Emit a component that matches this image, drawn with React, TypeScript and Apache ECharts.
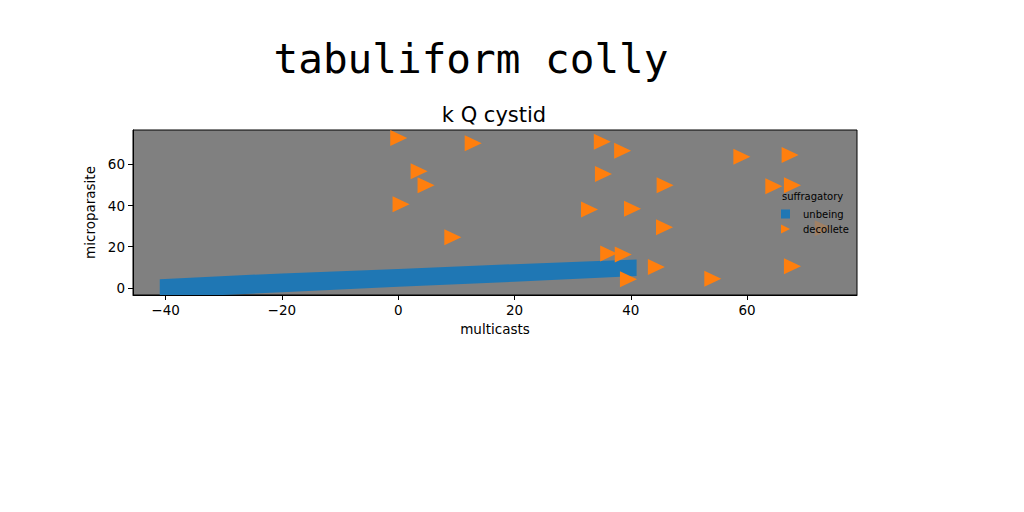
import React, { useEffect, useRef } from "react";
import * as echarts from "echarts";

const xTicks = [-40, -20, 0, 20, 40, 60];
const yTicks = [0, 20, 40, 60];

const bandX = [-41, -20, 0, 20, 41];
const bandLow = [-4.9, -2.2, 0.5, 2.9, 5.7];
const bandHigh = [4.2, 7.0, 9.1, 11.5, 13.8];

const decolleteX = [0.1, 12.9, 3.6, 4.8, 0.5, 9.4, 35.1, 38.6, 59.1, 67.4, 35.3, 45.9, 64.6, 67.8, 32.9, 40.3, 45.8, 73.1, 36.2, 38.7, 44.4, 67.8, 39.6, 54.1];
const decolleteY = [72.8, 70.3, 56.7, 49.9, 40.6, 24.6, 71.0, 66.6, 63.7, 64.5, 55.3, 49.8, 49.4, 49.9, 38.1, 38.4, 29.4, 28.9, 16.7, 16.2, 10.1, 10.5, 4.1, 4.4];
// index of the point hidden behind the legend box
const behindLegend = [17];

const TRI = "path://M0,0L2,1L0,2Z";
const SQ = "path://M0,0L1,0L1,1L0,1Z";
const FONT = "DejaVu Sans";
const minus = (v: number) => String(v).replace("-", "\u2212");

export default function App() {
  const ref = useRef<HTMLDivElement>(null);
  useEffect(() => {
    document.body.style.margin = "0";
    const chart = echarts.init(ref.current!, null, { renderer: "svg" });
    const scatterData = decolleteX.map((x, i) =>
      behindLegend.includes(i)
        ? { value: [x, decolleteY[i]], itemStyle: { opacity: 0.25 } }
        : { value: [x, decolleteY[i]] }
    );
    chart.setOption({
      animation: false,
      backgroundColor: "#ffffff",
      textStyle: { fontFamily: FONT },
      grid: {
        left: 133,
        right: 167,
        top: 130,
        bottom: 217,
        show: true,
        backgroundColor: "#808080",
        borderColor: "#000000",
        borderWidth: 1,
      },
      xAxis: {
        type: "value",
        min: -45.6,
        max: 78.9,
        name: "multicasts",
        nameLocation: "middle",
        nameGap: 27,
        nameTextStyle: { fontSize: 13.5, color: "#000", fontFamily: FONT },
        axisLine: { show: true, onZero: false, lineStyle: { color: "#000", width: 1 } },
        axisTick: { show: true, inside: false, length: 5, lineStyle: { color: "#000" }, customValues: xTicks },
        axisLabel: { fontSize: 13.5, color: "#000", margin: 8, fontFamily: FONT, customValues: xTicks, formatter: minus },
        splitLine: { show: false },
      },
      yAxis: {
        type: "value",
        min: -3.5,
        max: 76.7,
        name: "microparasite",
        nameLocation: "middle",
        nameGap: 33,
        nameTextStyle: { fontSize: 13.5, color: "#000", fontFamily: FONT },
        axisLine: { show: true, onZero: false, lineStyle: { color: "#000", width: 1 } },
        axisTick: { show: true, inside: false, length: 5, lineStyle: { color: "#000" }, customValues: yTicks },
        axisLabel: { fontSize: 13.5, color: "#000", margin: 8, fontFamily: FONT, customValues: yTicks, formatter: minus },
        splitLine: { show: false },
      },
      legend: {
        orient: "vertical",
        left: 777,
        top: 205,
        itemWidth: 9,
        itemHeight: 9,
        itemGap: 5,
        padding: [4, 4, 4, 4],
        selectedMode: false,
        textStyle: { fontSize: 10, color: "#000", fontFamily: FONT, padding: [0, 0, 0, 8] },
        data: [
          { name: "unbeing", icon: SQ },
          { name: "decollete", icon: TRI },
        ],
      },
      graphic: [
        {
          type: "text",
          x: 471,
          y: 59,
          z: 10,
          style: {
            text: "tabuliform colly",
            fontFamily: "DejaVu Sans Mono",
            fontSize: 41,
            fill: "#000",
            align: "center",
            verticalAlign: "middle",
          },
        },
        {
          type: "text",
          x: 494,
          y: 115,
          z: 10,
          style: {
            text: "k Q cystid",
            fontFamily: FONT,
            fontSize: 21,
            fill: "#000",
            align: "center",
            verticalAlign: "middle",
          },
        },
        {
          type: "text",
          x: 782,
          y: 196.5,
          z: 10,
          style: {
            text: "suffragatory",
            fontFamily: FONT,
            fontSize: 10,
            fill: "#000",
            align: "left",
            verticalAlign: "middle",
          },
        },
      ],
      series: [
        {
          name: "unbeing",
          type: "custom",
          clip: true,
          itemStyle: { color: "#1f77b4" },
          data: [0],
          renderItem: (params: any, api: any) => {
            const pts: number[][] = [];
            bandX.forEach((x, i) => pts.push(api.coord([x, bandHigh[i]])));
            for (let i = bandX.length - 1; i >= 0; i--) pts.push(api.coord([bandX[i], bandLow[i]]));
            return {
              type: "polygon",
              shape: { points: pts },
              style: { fill: api.visual("color") },
            };
          },
        },
        {
          name: "decollete",
          type: "scatter",
          symbol: TRI,
          symbolSize: [17, 16],
          itemStyle: { color: "#ff7f0e", opacity: 1 },
          data: scatterData,
        },
      ],
    });
    return () => chart.dispose();
  }, []);
  return <div ref={ref} style={{ width: 1024, height: 512 }} />;
}
